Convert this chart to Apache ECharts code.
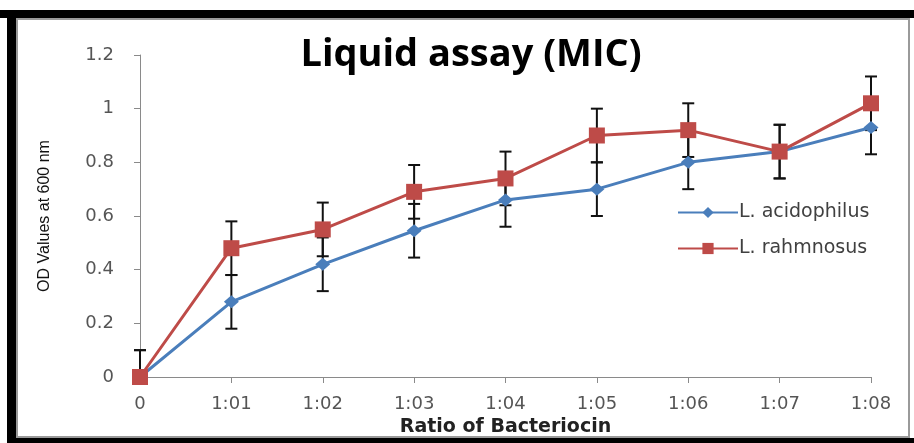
<!DOCTYPE html>
<html>
<head>
<meta charset="utf-8">
<script src="https://cdn.jsdelivr.net/npm/echarts@6/dist/echarts.min.js"></script>
<style>
html, body { margin: 0; padding: 0; background: #fff; }
#chart { width: 914px; height: 443px; }
</style>
</head>
<body>
<div id="chart"></div>
<script>
// values
const categories = ['0', '1:01', '1:02', '1:03', '1:04', '1:05', '1:06', '1:07', '1:08']
const acidophilus = [0, 0.28, 0.42, 0.545, 0.66, 0.70, 0.80, 0.84, 0.93]
const rahmnosus = [0, 0.48, 0.55, 0.69, 0.74, 0.90, 0.92, 0.84, 1.02]
const errAcidophilus = [0.1, 0.1, 0.1, 0.1, 0.1, 0.1, 0.1, 0.1, 0.1]
const errRahmnosus = [0.1, 0.1, 0.1, 0.1, 0.1, 0.1, 0.1, 0.1, 0.1]
const yTicks = [0, 0.2, 0.4, 0.6, 0.8, 1, 1.2]

const chart = echarts.init(document.getElementById('chart'))

const errorData = function (values, errs) {
    return values.map((v, i) => [i, v - errs[i], v + errs[i]])
}

const renderError = function (params, api) {
    const lo = Math.max(api.value(1), 0)
    const top = api.coord([api.value(0), api.value(2)])
    const bot = api.coord([api.value(0), lo])
    const half = 6
    const style = { stroke: '#111', lineWidth: 2 }
    const children = [
        { type: 'line', shape: { x1: top[0], y1: top[1], x2: bot[0], y2: bot[1] }, style: style },
        { type: 'line', shape: { x1: top[0] - half, y1: top[1], x2: top[0] + half, y2: top[1] }, style: style }
    ]
    if (api.value(1) >= 0) {
        children.push({ type: 'line', shape: { x1: bot[0] - half, y1: bot[1], x2: bot[0] + half, y2: bot[1] }, style: style })
    }
    return { type: 'group', children: children }
}

const option = {
    animation: false,
    title: {
        text: 'Liquid assay (MIC)',
        left: 466,
        top: 31,
        textAlign: 'center',
        textStyle: {
            fontFamily: 'Open Sans',
            fontWeight: 'bold',
            fontSize: 38,
            color: '#000'
        }
    },
    grid: {
        left: 140,
        right: 43,
        top: 55,
        bottom: 66,
        containLabel: false
    },
    legend: {
        orient: 'vertical',
        left: 672,
        top: 198,
        itemWidth: 60,
        itemHeight: 14,
        itemGap: 17,
        data: ['L. acidophilus', 'L. rahmnosus'],
        textStyle: {
            fontFamily: 'DejaVu Sans',
            fontSize: 19,
            color: '#404040',
            padding: [0, 0, 0, -4]
        }
    },
    xAxis: {
        type: 'category',
        data: categories,
        boundaryGap: false,
        name: 'Ratio of Bacteriocin',
        nameLocation: 'middle',
        nameGap: 41,
        nameTextStyle: {
            fontFamily: 'DejaVu Sans',
            fontWeight: 'bold',
            fontSize: 19,
            color: '#222'
        },
        axisLine: { lineStyle: { color: '#8a8a8a', width: 1 } },
        axisTick: { show: true, length: 6, lineStyle: { color: '#8a8a8a' } },
        axisLabel: {
            fontFamily: 'DejaVu Sans',
            fontSize: 18,
            color: '#555',
            margin: 18
        },
        splitLine: { show: false }
    },
    yAxis: {
        type: 'value',
        min: yTicks[0],
        max: yTicks[yTicks.length - 1],
        interval: 0.2,
        name: 'OD Values at 600 nm',
        nameLocation: 'middle',
        nameGap: 87,
        nameTextStyle: {
            fontFamily: 'Liberation Sans Narrow, Liberation Sans',
            fontSize: 16,
            color: '#111'
        },
        axisLine: { show: true, lineStyle: { color: '#8a8a8a', width: 1 } },
        axisTick: { show: true, length: 6, lineStyle: { color: '#8a8a8a' } },
        axisLabel: {
            fontFamily: 'DejaVu Sans',
            fontSize: 18,
            color: '#555',
            margin: 26,
            formatter: v => String(Math.round(v * 10) / 10)
        },
        splitLine: { show: false }
    },
    series: [
        {
            type: 'custom',
            name: 'errA',
            renderItem: renderError,
            data: errorData(acidophilus, errAcidophilus),
            encode: { x: 0, y: [1, 2] },
            z: 1,
            silent: true
        },
        {
            type: 'custom',
            name: 'errB',
            renderItem: renderError,
            data: errorData(rahmnosus, errRahmnosus),
            encode: { x: 0, y: [1, 2] },
            z: 1,
            silent: true
        },
        {
            name: 'L. acidophilus',
            type: 'line',
            data: acidophilus,
            symbol: 'diamond',
            symbolSize: [15, 13],
            lineStyle: { color: '#4a7ebb', width: 3 },
            itemStyle: { color: '#4a7ebb' },
            z: 3
        },
        {
            name: 'L. rahmnosus',
            type: 'line',
            data: rahmnosus,
            symbol: 'rect',
            symbolSize: 16,
            lineStyle: { color: '#be4b48', width: 3 },
            itemStyle: { color: '#be4b48' },
            z: 4
        }
    ],
    graphic: [
        // outer black frame and inner grey border
        { type: 'rect', shape: { x: 0, y: 10, width: 914, height: 8 }, style: { fill: '#000' } },
        { type: 'rect', shape: { x: 7, y: 10, width: 9, height: 433 }, style: { fill: '#000' } },
        { type: 'rect', shape: { x: 7, y: 438, width: 907, height: 5 }, style: { fill: '#000' } },
        { type: 'rect', shape: { x: 17, y: 19, width: 892, height: 418 }, style: { fill: 'none', stroke: '#9a9a9a', lineWidth: 2 } }
    ]
}

chart.setOption(option)
</script>
</body>
</html>
